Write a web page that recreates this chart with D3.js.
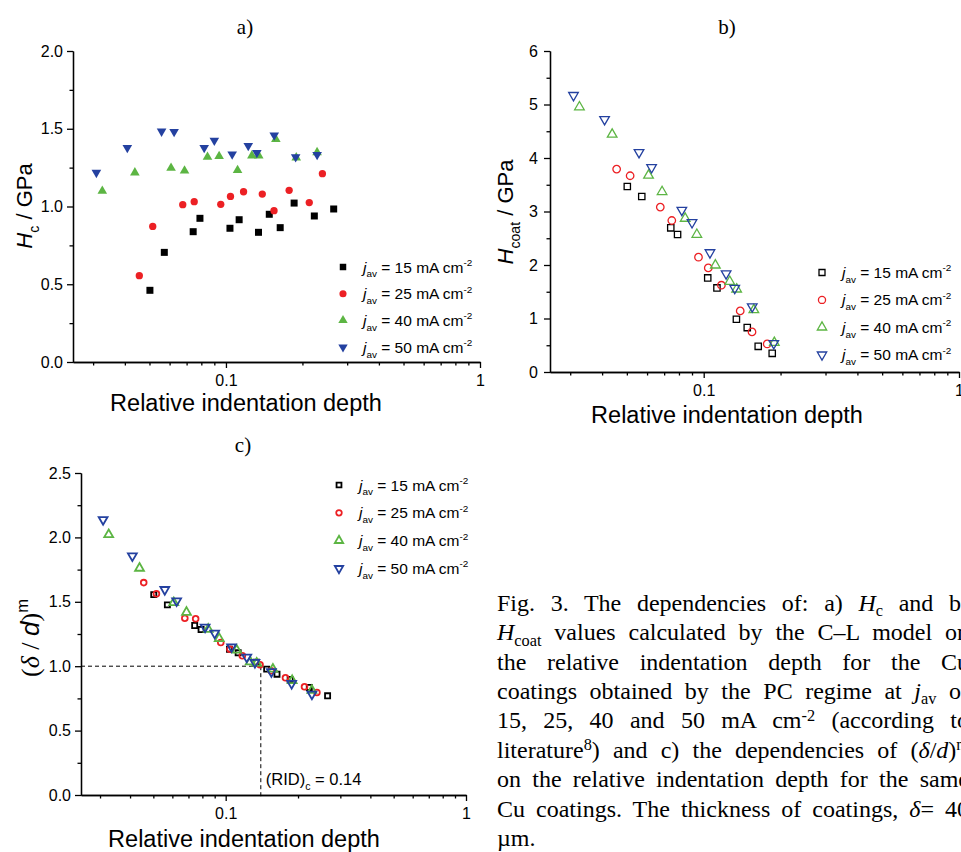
<!DOCTYPE html>
<html>
<head>
<meta charset="utf-8">
<script src="https://cdn.jsdelivr.net/npm/d3@7"></script>
<style>
body { margin: 0; width: 961px; height: 852px; overflow: hidden; background: #fff; position: relative; }
svg { position: absolute; left: 0; top: 0; }
#cap { position: absolute; left: 497px; top: 588.9px; font-family: "Liberation Serif", "Times New Roman", serif; font-size: 24px; color: #000; }
#cap .ln { height: 29.4px; line-height: 29.4px; white-space: nowrap; }
#cap sub, #cap sup { font-size: 0.68em; position: relative; vertical-align: baseline; line-height: 0; }
#cap sub { top: 0.32em; }
#cap sup { top: -0.48em; }
.axis text { font-family: "Liberation Sans", Arial, sans-serif; font-size: 16px; fill: #000; }
.axis path, .axis line { stroke: #000; stroke-width: 1.3; }
</style>
</head>
<body>
<div id="chart"></div>
<div id="cap"></div>
<script>
// x values (relative indentation depth) per series, shared by the three plots
var xs15 = [0.0502, 0.0572, 0.0743, 0.0790, 0.1037, 0.1127, 0.1343, 0.1481, 0.1635, 0.1855, 0.2228, 0.2655];
var xs25 = [0.0456, 0.0515, 0.0676, 0.0750, 0.0954, 0.1042, 0.1173, 0.1390, 0.1546, 0.1773, 0.2128, 0.2397];
var xs40 = [0.0326, 0.0438, 0.0608, 0.0687, 0.0846, 0.0940, 0.1111, 0.1265, 0.1346, 0.1572, 0.1891, 0.2284];
var xs50 = [0.0309, 0.0409, 0.0558, 0.0625, 0.0821, 0.0900, 0.1058, 0.1224, 0.1323, 0.1549, 0.1881, 0.2285];

// a) Hc / GPa
var hc15 = [0.461, 0.705, 0.838, 0.924, 0.860, 0.915, 0.834, 0.950, 0.864, 1.022, 0.939, 0.984];
var hc25 = [0.555, 0.872, 1.012, 1.031, 1.014, 1.065, 1.095, 1.080, 0.973, 1.104, 1.025, 1.211];
var hc40 = [1.100, 1.218, 1.248, 1.230, 1.318, 1.323, 1.233, 1.327, 1.327, 1.432, 1.314, 1.348];
var hc50 = [1.218, 1.378, 1.483, 1.481, 1.378, 1.425, 1.336, 1.391, 1.346, 1.458, 1.318, 1.333];

// b) Hcoat / GPa
var hcoat15 = [3.468, 3.281, 2.695, 2.570, 1.759, 1.572, 0.986, 0.830, 0.480, 0.349];
var hcoat25 = [3.793, 3.668, 3.082, 2.832, 2.146, 1.946, 1.622, 1.142, 0.749, 0.524];
var hcoat40 = [4.953, 4.442, 3.674, 3.369, 2.870, 2.570, 1.996, 1.691, 1.547, 1.160, 0.549];
var hcoat50 = [5.172, 4.722, 4.105, 3.824, 3.026, 2.795, 2.233, 1.840, 1.566, 1.223, 0.536];

// c) (delta/d)^m
var dm15 = [1.556, 1.476, 1.316, 1.285, 1.132, 1.104, 1.032, 0.977, 0.938, 0.897, 0.835, 0.770];
var dm25 = [1.649, 1.562, 1.373, 1.368, 1.184, 1.132, 1.081, 1.011, 0.964, 0.910, 0.840, 0.796];
var dm40 = [2.022, 1.761, 1.494, 1.419, 1.287, 1.215, 1.125, 1.034, 1.024, 0.977, 0.889, 0.812];
var dm50 = [2.138, 1.856, 1.595, 1.507, 1.303, 1.256, 1.150, 1.070, 1.029, 0.957, 0.866, 0.783];

var currents = ["15", "25", "40", "50"];
var colors = ["#000000", "#ec2024", "#5cb543", "#2441a0"];
var xMajor = [0.1, 1];
var xMinor = [0.03, 0.04, 0.05, 0.06, 0.07, 0.08, 0.09, 0.2, 0.3, 0.4, 0.5, 0.6, 0.7, 0.8, 0.9];
var ridC = 0.14;

var sans = '"Liberation Sans", Arial, sans-serif';
var serif = '"Liberation Serif", "Times New Roman", serif';

var svg = d3.select("#chart").append("svg")
    .attr("width", 961)
    .attr("height", 852);

// text with italic / sub / sup pieces
function rich(g, x, y, parts, size, family) {
  var t = g.append("text")
      .attr("x", x).attr("y", y)
      .style("font-size", size + "px")
      .style("font-family", family)
      .style("white-space", "pre")
      .attr("fill", "#000");
  var cur = 0;
  parts.forEach(function(p) {
    var off = p.sub ? size * 0.32 : (p.sup ? -size * 0.42 : 0);
    var ts = t.append("tspan").attr("dy", off - cur).text(p.t);
    cur = off;
    if (p.sub || p.sup) ts.style("font-size", (size * 0.64) + "px");
    if (p.it) ts.style("font-style", "italic");
    if (p.fam) ts.style("font-family", p.fam);
  });
  return t;
}

function marker(i) {
  var types = [d3.symbolSquare, d3.symbolCircle, d3.symbolTriangle, d3.symbolTriangle];
  return types[i];
}

function drawPanel(p) {
  var x = d3.scaleLog().domain([0.025, 1]).range([p.left, p.right]);
  var y = d3.scaleLinear().domain([0, p.ymax]).range([p.bottom, p.top]);
  var g = svg.append("g");

  // axes
  g.append("g").attr("class", "axis")
      .attr("transform", "translate(0," + p.bottom + ")")
      .call(d3.axisBottom(x).tickValues(xMinor).tickSize(3.5).tickSizeOuter(0).tickFormat(""));
  g.append("g").attr("class", "axis")
      .attr("transform", "translate(0," + p.bottom + ")")
      .call(d3.axisBottom(x).tickValues(xMajor).tickSize(6).tickSizeOuter(0).tickPadding(7)
        .tickFormat(function(d) { return d === 1 ? "1" : "0.1"; }));
  g.append("g").attr("class", "axis")
      .attr("transform", "translate(" + p.left + ",0)")
      .call(d3.axisLeft(y).tickValues(p.yMinor).tickSize(3.5).tickSizeOuter(0).tickFormat(""));
  g.append("g").attr("class", "axis")
      .attr("transform", "translate(" + p.left + ",0)")
      .call(d3.axisLeft(y).tickValues(p.yMajor).tickSize(6).tickSizeOuter(0).tickPadding(p.ypad)
        .tickFormat(d3.format(p.fmt)));

  // panel letter
  g.append("text").attr("x", p.titleX).attr("y", p.titleY)
      .attr("text-anchor", "middle")
      .style("font-family", serif).style("font-size", "21px")
      .text(p.title);

  // axis titles
  g.append("text").attr("x", p.xlabX).attr("y", p.xlabY)
      .attr("text-anchor", "middle")
      .style("font-family", sans).style("font-size", "23.5px")
      .text("Relative indentation depth");
  rich(g, 0, 0, p.ylab, p.ylabSize, sans)
      .attr("text-anchor", "middle")
      .attr("transform", "translate(" + p.ylabX + "," + p.ylabY + ") rotate(-90)");

  // extra guide lines (panel c)
  if (p.guide) {
    g.append("line")
        .attr("x1", x(0.025)).attr("x2", x(ridC))
        .attr("y1", y(1)).attr("y2", y(1))
        .attr("stroke", "#000").attr("stroke-width", 1).attr("stroke-dasharray", "4,3");
    g.append("line")
        .attr("x1", x(ridC)).attr("x2", x(ridC))
        .attr("y1", y(1)).attr("y2", y(0) + 4)
        .attr("stroke", "#000").attr("stroke-width", 1).attr("stroke-dasharray", "4,3");
    rich(g, x(ridC) + 5, y(0) - 10, [
      {t: "(RID)"}, {t: "c", sub: true}, {t: " = 0.14"}
    ], 16.5, sans);
  }

  // data
  p.series.forEach(function(ys, i) {
    var pts = ys.map(function(v, k) { return [p.xs[i][k], v]; });
    g.append("g").selectAll("path")
      .data(pts)
      .enter()
      .append("path")
        .attr("d", d3.symbol().type(marker(i)).size(p.sizes[i]))
        .attr("transform", function(d) {
          return "translate(" + x(d[0]) + "," + y(d[1]) + ")" + (i === 3 ? " rotate(180)" : "");
        })
        .attr("fill", p.filled ? colors[i] : "none")
        .attr("stroke", p.filled ? "none" : colors[i])
        .attr("stroke-width", p.sw);
  });

  // legend
  currents.forEach(function(c, i) {
    var ly = p.legY + i * p.legDy;
    g.append("path")
        .attr("d", d3.symbol().type(marker(i)).size(p.legSizes[i]))
        .attr("transform", "translate(" + p.legX + "," + ly + ")" + (i === 3 ? " rotate(180)" : ""))
        .attr("fill", p.filled ? colors[i] : "none")
        .attr("stroke", p.filled ? "none" : colors[i])
        .attr("stroke-width", p.sw);
    rich(g, p.legX + 20, ly + 5.5, [
      {t: "j", it: true}, {t: "av", sub: true}, {t: " = " + c + " mA cm"}, {t: "-2", sup: true}
    ], 15.5, sans);
  });
}

var xsAll = [xs15, xs25, xs40, xs50];

drawPanel({
  title: "a)", titleX: 245, titleY: 34,
  left: 73, right: 480, top: 51, bottom: 362,
  ymax: 2, yMajor: [0, 0.5, 1, 1.5, 2], yMinor: [0.25, 0.75, 1.25, 1.75], fmt: ".1f", ypad: 4,
  xlabX: 246, xlabY: 411, ylabX: 32, ylabY: 206, ylabSize: 22,
  ylab: [{t: "H", it: true}, {t: "c", sub: true}, {t: " / GPa"}],
  xs: xsAll, series: [hc15, hc25, hc40, hc50],
  filled: true, sw: 0, sizes: [49, 42, 40, 40], legSizes: [42, 40, 38, 38],
  legX: 343, legY: 267, legDy: 26.7
});

drawPanel({
  title: "b)", titleX: 727, titleY: 34,
  left: 550, right: 959, top: 51, bottom: 372,
  ymax: 6, yMajor: [0, 1, 2, 3, 4, 5, 6], yMinor: [0.5, 1.5, 2.5, 3.5, 4.5, 5.5], fmt: "d", ypad: 6,
  xlabX: 727, xlabY: 423, ylabX: 513, ylabY: 212, ylabSize: 22,
  ylab: [{t: "H", it: true}, {t: "coat", sub: true}, {t: " / GPa"}],
  xs: xsAll, series: [hcoat15, hcoat25, hcoat40, hcoat50],
  filled: false, sw: 1.3, sizes: [40, 44, 40, 40], legSizes: [36, 40, 38, 38],
  legX: 822, legY: 272.5, legDy: 27.4
});

drawPanel({
  title: "c)", titleX: 243, titleY: 452,
  left: 81, right: 466, top: 473, bottom: 795,
  ymax: 2.5, yMajor: [0, 0.5, 1, 1.5, 2, 2.5], yMinor: [0.25, 0.75, 1.25, 1.75, 2.25], fmt: ".1f", ypad: 4,
  xlabX: 244, xlabY: 847, ylabX: 39, ylabY: 638, ylabSize: 26,
  ylab: [{t: "(", fam: serif}, {t: "δ", it: true, fam: serif}, {t: " / ", fam: serif}, {t: "d", it: true},
         {t: ")", fam: serif}, {t: "m", sup: true}],
  xs: xsAll, series: [dm15, dm25, dm40, dm50],
  filled: false, sw: 1.8, sizes: [26, 26, 34, 34], legSizes: [24, 24, 30, 30],
  legX: 339, legY: 485, legDy: 27.8, guide: true
});

// caption, justified line by line
var capWidth = 472;
var capLines = [
  'Fig. 3. The dependencies of: a) <i>H</i><sub>c</sub> and b)',
  '<i>H</i><sub>coat</sub> values calculated by the C–L model on',
  'the relative indentation depth for the Cu',
  'coatings obtained by the PC regime at <i>j</i><sub>av</sub> of',
  '15, 25, 40 and 50 mA cm<sup>-2</sup> (according to',
  'literature<sup>8</sup>) and c) the dependencies of (<i>δ</i>/<i>d</i>)<sup>m</sup>',
  'on the relative indentation depth for the same',
  'Cu coatings. The thickness of coatings, <i>δ</i>= 40',
  'µm.'
];
var lines = d3.select("#cap").selectAll("div")
  .data(capLines)
  .enter()
  .append("div")
    .attr("class", "ln");
lines.append("span").html(function(d) { return d; });
lines.each(function(d, i) {
  if (i === capLines.length - 1) return;
  var span = this.firstChild;
  var w = span.getBoundingClientRect().width;
  var gaps = span.textContent.split(" ").length - 1;
  d3.select(this).style("word-spacing", ((capWidth - w) / gaps) + "px");
});
</script>
</body>
</html>
